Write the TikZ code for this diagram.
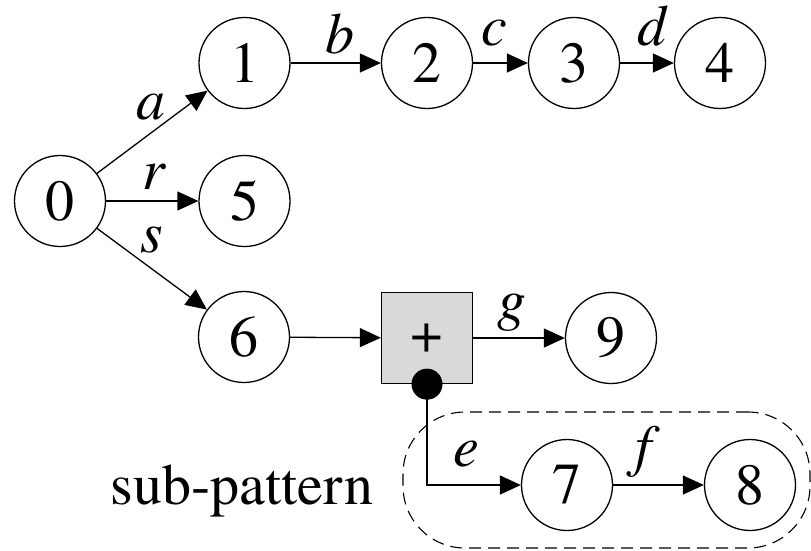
\documentclass[tikz,border=0pt]{standalone}
\usepackage{fontspec}
\setmainfont{texgyretermes}[Extension=.otf, UprightFont=*-regular, ItalicFont=*-italic, BoldFont=*-bold]
\usetikzlibrary{arrows.meta}
\begin{document}
\begin{tikzpicture}[x=1pt,y=-1pt,
  every node/.style={font=\fontsize{58}{62}\selectfont},
  st/.style={draw, circle, line width=1.3pt, minimum size=91pt, inner sep=0pt},
  op/.style={draw, line width=1.3pt, fill=black!15, minimum size=91pt, inner sep=0pt},
  conn/.style={line width=1.3pt, -{Triangle[length=21pt,width=19pt]}},
  lab/.style={inner sep=0pt, font=\fontsize{58}{62}\selectfont\itshape}]
\useasboundingbox (0,0) rectangle (811,550);
\node[st] (n0) at (60,201) {0};
\node[st] (n1) at (244.5,63) {1};
\node[st] (n2) at (427,63) {2};
\node[st] (n3) at (574,63) {3};
\node[st] (n4) at (720,63) {4};
\node[st] (n5) at (244.5,201) {5};
\node[st] (n6) at (244,337) {6};
\node[op] (sq) at (427,338) {+};
\node[st] (n9) at (611,338) {9};
\node[st] (n7) at (567,485) {7};
\node[st] (n8) at (750,485) {8};
\node[circle, fill=black, minimum size=31pt, inner sep=0pt] (dot) at (sq.south) {};
\node[draw, dashed, dash pattern=on 12pt off 7pt, line width=1.1pt, rounded corners=62pt,
  minimum width=407pt, minimum height=136pt] (sub) at (606.5,480) {};
\node (subl) at (242,491) {sub-pattern};

\draw[conn] (n0) -- (n1);
\draw[conn] (n0) -- (n5);
\draw[conn] (n0) -- (n6);
\draw[conn] (n1) -- (n2);
\draw[conn] (n2) -- (n3);
\draw[conn] (n3) -- (n4);
\draw[conn] (n6) -- (sq);
\draw[conn] (sq) -- (n9);
\draw[conn] (dot.center) |- (n7);
\draw[conn] (n7) -- (n8);

\node[lab] (la) at (151,107) {a};
\node[lab] (lb) at (340,34) {b};
\node[lab] (lc) at (494,33) {c};
\node[lab] (ld) at (652,26) {d};
\node[lab] (lr) at (154,177) {r};
\node[lab] (ls) at (152,240) {s};
\node[lab] (lg) at (512,313) {g};
\node[lab] (le) at (466,454) {e};
\node[lab] (lf) at (644,452) {f};
\end{tikzpicture}
\end{document}
